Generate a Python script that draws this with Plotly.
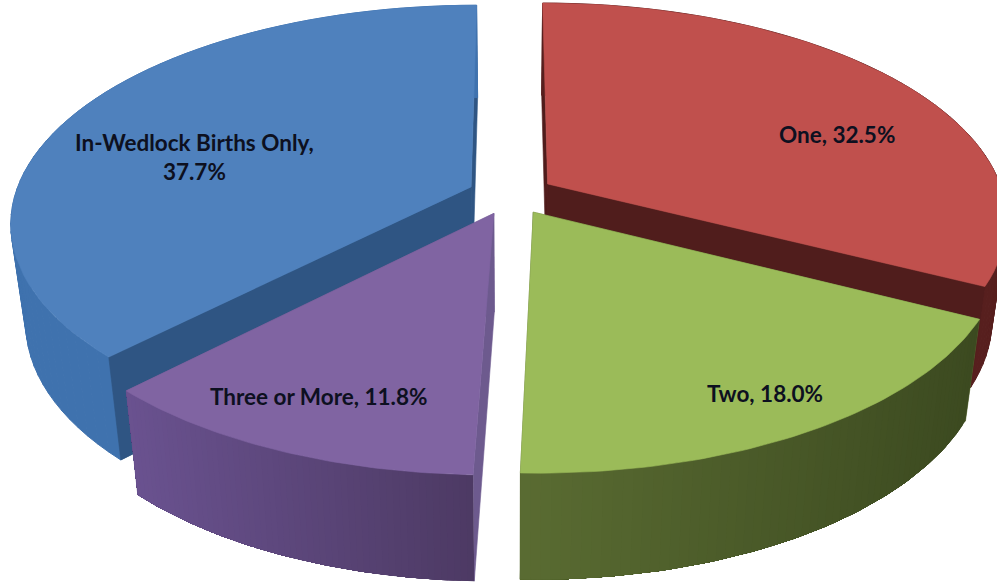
import math
import plotly.graph_objects as go

categories = ["One", "Two", "Three or More", "In-Wedlock Births Only"]
values = [32.5, 18.0, 11.8, 37.7]
label_text = ["One, 32.5%", "Two, 18.0%", "Three or More, 11.8%", "In-Wedlock Births Only,<br>37.7%"]

top_colors = ["#c0504d", "#9bbb59", "#8064a2", "#4f81bd"]
wall_left = ["#571f1e", "#5a6c32", "#6a5290", "#3f72ae"]
wall_right = ["#571f1e", "#3c4a20", "#4d3a64", "#3f72ae"]
inner_colors = ["#501d1c", "#5a6c32", "#6d5a8e", "#2f5583"]
label_x = [837, 765, 318, 194]
label_y = [134, 393, 396, 157]

W, H = 997, 582
X0, Y0 = 511, 194.5
A, B, P, EXPLODE = 456, 213, 0.16, 0.095
K = 0.97


def project(gx, gy):
    s = 1 / (1 - P * gy)
    return X0 + A * gx * s, Y0 + B * gy * s


def lower(pt):
    x, y = pt
    return X0 + (x - X0) * K, y + 98 + (y - 194) * 0.03


def hex_mix(c1, c2, t):
    a = [int(c1[i:i + 2], 16) for i in (1, 3, 5)]
    b = [int(c2[i:i + 2], 16) for i in (1, 3, 5)]
    return "#%02x%02x%02x" % tuple(round(p + (q - p) * t) for p, q in zip(a, b))


fig = go.Figure()


def poly(points, color, width=0.6):
    fig.add_trace(go.Scatter(
        x=[p[0] for p in points] + [points[0][0]],
        y=[p[1] for p in points] + [points[0][1]],
        mode="lines", fill="toself", fillcolor=color,
        line=dict(color=color, width=width), hoverinfo="skip", showlegend=False))


total = sum(values)
spans = []
start = 0.0
for v in values:
    end = start + v / total * 2 * math.pi
    spans.append((start, end))
    start = end

slices = []
for i, (a0, a1) in enumerate(spans):
    mid = (a0 + a1) / 2
    ex, ey = EXPLODE * math.sin(mid), -EXPLODE * math.cos(mid)
    n = 60
    rim = []
    for j in range(n + 1):
        t = a0 + (a1 - a0) * j / n
        rim.append(project(ex + math.sin(t), ey - math.cos(t)))
    slices.append((i, project(ex, ey), rim))

# painter's order: back slices first
for i, apex, rim in [slices[3], slices[0], slices[2], slices[1]]:
    poly([apex, rim[0], lower(rim[0]), lower(apex)], inner_colors[i])
    poly([apex, rim[-1], lower(rim[-1]), lower(apex)], inner_colors[i])
    xs = [p[0] for p in rim]
    lo, hi = min(xs), max(xs)
    if wall_left[i] == wall_right[i]:
        # one colour: overlapping quads sweep the whole wall, curved silhouette included
        for j in range(len(rim) - 1):
            poly([rim[j], rim[j + 1], lower(rim[j + 1]), lower(rim[j])], wall_left[i], width=1)
    else:
        # horizontal gradient: each step repaints the rest of the rim, so no seams show
        for j in range(len(rim) - 1):
            t = (rim[j][0] - lo) / (hi - lo)
            rest = rim[j:]
            poly(rest + [lower(p) for p in reversed(rest)],
                 hex_mix(wall_left[i], wall_right[i], t), width=0)
    if i == 0:
        poly([apex, rim[-1], lower(rim[-1]), lower(apex)], inner_colors[i])
    if i == 3:
        poly([apex, rim[0], lower(rim[0]), lower(apex)], inner_colors[i])
    poly([apex] + rim, top_colors[i])

for text, x, y in zip(label_text, label_x, label_y):
    fig.add_annotation(x=x, y=y, xref="x", yref="y", text="<b>%s</b>" % text, showarrow=False,
                       font=dict(family="Lato, sans-serif", size=22.5, color="#0d1020"),
                       align="center")

fig.update_layout(
    width=W, height=H, margin=dict(l=0, r=0, t=0, b=0),
    paper_bgcolor="white", plot_bgcolor="white", showlegend=False,
    xaxis=dict(range=[0, W], visible=False, fixedrange=True),
    yaxis=dict(range=[H, 0], visible=False, fixedrange=True),
)
fig.write_html("out.html", config=dict(displayModeBar=False),
               post_script="document.body.style.margin='0';document.body.style.overflow='hidden';")
